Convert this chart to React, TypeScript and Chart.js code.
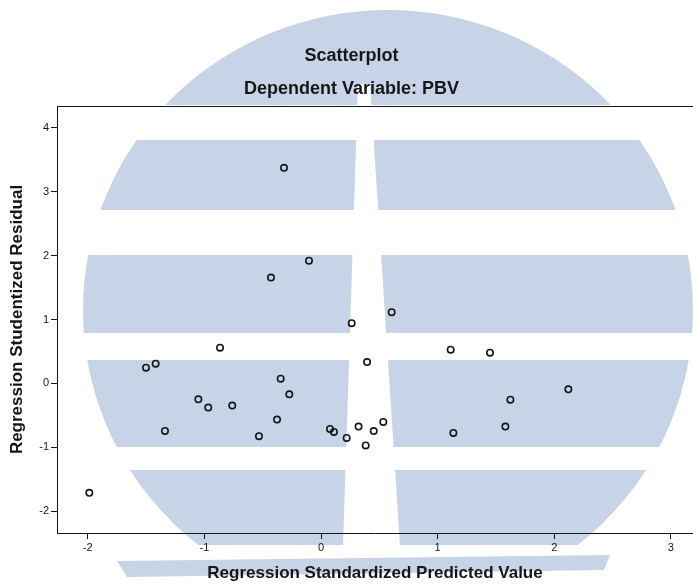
import React, { useEffect, useRef } from "react";
import { Chart, registerables } from "chart.js";

Chart.register(...registerables);

const titleLines = ["Scatterplot", "Dependent Variable: PBV"];
const xTitle = "Regression Standardized Predicted Value";
const yTitle = "Regression Studentized Residual";

const xTickValues = [-2, -1, 0, 1, 2, 3];
const yTickValues = [-2, -1, 0, 1, 2, 3, 4];

const predicted = [
  -0.317, -0.103, -0.429, 0.263, 0.606, -0.866, -1.418, -1.501, -0.346, -0.272,
  0.395, 1.112, 1.449, 2.121, -1.052, -0.967, -0.761, -0.377, -1.338, -0.532,
  0.077, 0.111, 0.22, 0.322, 0.383, 0.452, 0.534, 1.135, 1.624, 1.581, -1.987,
];
const residual = [
  3.375, 1.92, 1.656, 0.942, 1.114, 0.558, 0.308, 0.245, 0.073, -0.172,
  0.333, 0.527, 0.48, -0.094, -0.25, -0.38, -0.348, -0.567, -0.745, -0.828,
  -0.714, -0.761, -0.855, -0.677, -0.973, -0.747, -0.605, -0.777, -0.255, -0.677,
  -1.714,
];

const FONT = "'Liberation Sans', Arial, sans-serif";
const BLUE = "rgb(199, 212, 231)";
const INK = "#161616";

const watermark = {
  id: "watermark",
  beforeDraw(chart: any) {
    const ctx = chart.ctx as CanvasRenderingContext2D;
    const W = chart.width;
    ctx.save();
    ctx.fillStyle = "#ffffff";
    ctx.fillRect(0, 0, W, chart.height);
    ctx.save();
    ctx.beginPath();
    ctx.ellipse(388, 310, 305, 300, 0, 0, Math.PI * 2);
    ctx.clip();
    ctx.fillStyle = BLUE;
    ctx.fillRect(0, 0, W, 545);
    ctx.restore();
    ctx.fillStyle = "#ffffff";
    const bands = [
      [105, 140],
      [210, 255],
      [333, 360],
      [447, 470],
    ];
    for (const [a, b] of bands) ctx.fillRect(0, a, W, b - a);
    ctx.beginPath();
    ctx.moveTo(358, 84);
    ctx.lineTo(370, 84);
    ctx.lineTo(400, 546);
    ctx.lineTo(343, 546);
    ctx.closePath();
    ctx.fill();
    ctx.fillStyle = BLUE;
    ctx.beginPath();
    ctx.moveTo(117, 561);
    ctx.lineTo(610, 555);
    ctx.lineTo(604, 570);
    ctx.lineTo(127, 577);
    ctx.closePath();
    ctx.fill();
    ctx.restore();
  },
  afterDraw(chart: any) {
    const { ctx, chartArea } = chart;
    ctx.save();
    ctx.strokeStyle = INK;
    ctx.lineWidth = 1;
    ctx.beginPath();
    ctx.moveTo(chartArea.left, Math.round(chartArea.top) + 0.5);
    ctx.lineTo(chart.width, Math.round(chartArea.top) + 0.5);
    ctx.stroke();
    ctx.restore();
  },
};

export default function App() {
  const ref = useRef<HTMLCanvasElement | null>(null);
  useEffect(() => {
    document.body.style.margin = "0";
    const canvas = ref.current;
    if (!canvas) return;
    const points = predicted.map((x, i) => ({ x, y: residual[i] }));
    const chart = new Chart(canvas, {
      type: "scatter",
      data: {
        datasets: [
          {
            data: points,
            pointStyle: "circle",
            pointRadius: 3.2,
            pointBorderWidth: 1.6,
            pointBorderColor: INK,
            pointBackgroundColor: "rgba(0,0,0,0)",
            pointHoverRadius: 3.2,
          },
        ],
      },
      options: {
        animation: false,
        responsive: false,
        events: [],
        layout: { autoPadding: false, padding: { left: 10, right: 0, top: 0, bottom: 0 } },
        plugins: {
          legend: { display: false },
          tooltip: { enabled: false },
          title: {
            display: true,
            text: titleLines,
            color: INK,
            font: { family: FONT, size: 18, weight: "bold", lineHeight: "33px" },
            padding: { top: 40, bottom: 0 },
          },
        },
        scales: {
          x: {
            type: "linear",
            min: -2.264,
            max: 3.19,
            afterBuildTicks: (s: any) => {
              s.ticks = xTickValues.map((v) => ({ value: v }));
            },
            afterFit: (s: any) => {
              s.height = 51;
              s.paddingRight = 0;
              s.paddingLeft = 0;
            },
            ticks: {
              color: INK,
              padding: 2,
              font: { family: FONT, size: 11 },
              callback: (v: any) => String(v),
            },
            grid: {
              drawOnChartArea: false,
              drawTicks: true,
              tickLength: 6,
              tickColor: INK,
              tickWidth: 1,
            },
            border: { display: true, color: INK, width: 1 },
            title: {
              display: true,
              text: xTitle,
              color: INK,
              font: { family: FONT, size: 17, weight: "bold" },
              padding: { top: 0, bottom: 0 },
            },
          },
          y: {
            type: "linear",
            min: -2.344,
            max: 4.344,
            afterBuildTicks: (s: any) => {
              s.ticks = yTickValues.map((v) => ({ value: v }));
            },
            afterFit: (s: any) => {
              s.width = 47;
              s.paddingTop = 0;
              s.paddingBottom = 0;
            },
            ticks: {
              color: INK,
              padding: 2,
              font: { family: FONT, size: 11 },
              callback: (v: any) => String(v),
            },
            grid: {
              drawOnChartArea: false,
              drawTicks: true,
              tickLength: 6,
              tickColor: INK,
              tickWidth: 1,
            },
            border: { display: true, color: INK, width: 1 },
            title: {
              display: true,
              text: yTitle,
              color: INK,
              font: { family: FONT, size: 17, weight: "bold", lineHeight: "14px" },
              padding: { top: 0, bottom: 0 },
            },
          },
        },
      },
      plugins: [watermark],
    });
    return () => chart.destroy();
  }, []);
  return (
    <div style={{ position: "fixed", left: 0, top: 0, width: 693, height: 584 }}>
      <canvas ref={ref} width={693} height={584} />
    </div>
  );
}
